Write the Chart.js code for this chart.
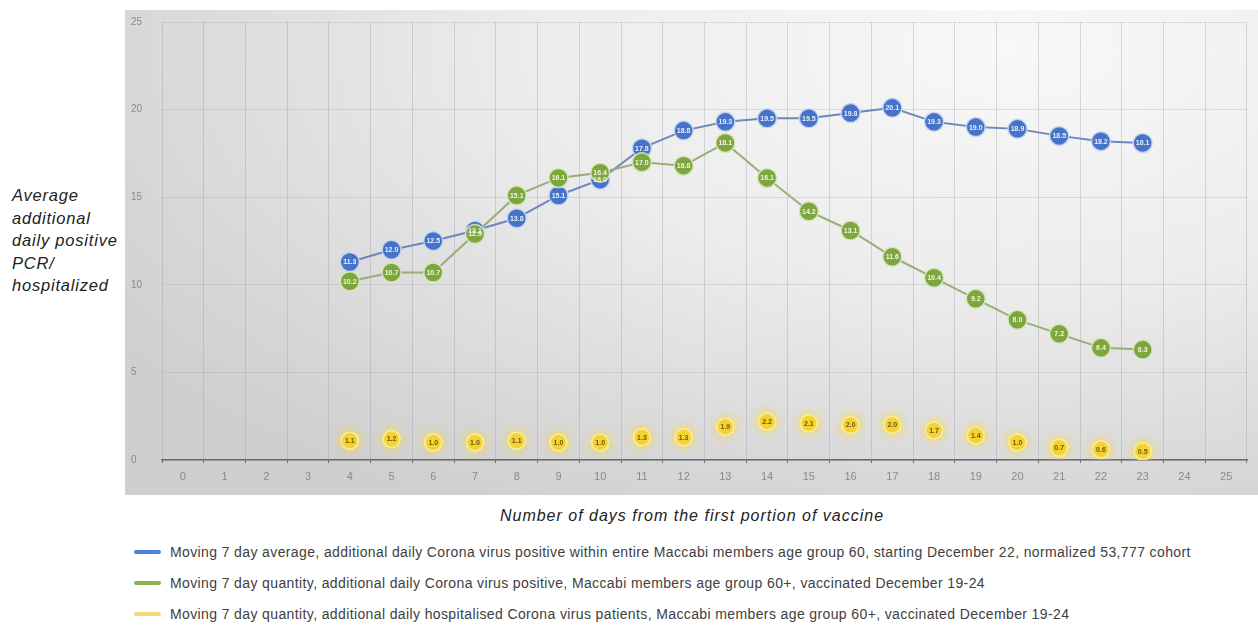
<!DOCTYPE html>
<html>
<head>
<meta charset="utf-8">
<script src="https://cdn.jsdelivr.net/npm/chart.js@4.4.1/dist/chart.umd.min.js"></script>
<style>
  body { margin: 0; background: #fff; font-family: "Liberation Sans", Arial, sans-serif; }
  #wrap { position: relative; width: 1258px; height: 632px; overflow: hidden; }
  #panel {
    position: absolute; left: 125px; top: 10px; width: 1133px; height: 485px;
    background: radial-gradient(ellipse 95% 110% at 78% 8%, #f8f8f8 0%, #ececec 45%, #d6d6d6 85%, #cfcfcf 100%);
  }
  #panel canvas { position: absolute; left: 0; top: 0; }
  #ytitle {
    position: absolute; left: 12px; top: 184px; font-style: italic; font-size: 16.5px;
    letter-spacing: 0.8px; line-height: 22.5px; color: #222;
  }
  #xtitle {
    position: absolute; left: 0; width: 1384px; top: 507px; text-align: center;
    font-style: italic; font-size: 16px; letter-spacing: 1px; color: #222;
  }
  #legend { position: absolute; left: 134px; top: 536px; }
  .item { height: 31.3px; display: flex; align-items: center; font-size: 14px; letter-spacing: 0.38px; color: #404040; }
  .swatch { width: 27px; height: 4px; border-radius: 2px; margin-right: 9px; }
</style>
</head>
<body>
<div id="wrap">
  <div id="panel"><canvas id="chart" width="1133" height="485"></canvas></div>
  <div id="ytitle">Average<br>additional<br>daily positive<br>PCR/<br>hospitalized</div>
  <div id="xtitle">Number of days from the first portion of vaccine</div>
  <div id="legend"></div>
</div>
<script>
  // days from first vaccine portion
  const days = ['0','1','2','3','4','5','6','7','8','9','10','11','12','13','14','15','16','17','18','19','20','21','22','23','24','25'];

  const seriesNames = [
    'Moving 7 day average, additional daily Corona virus positive within entire Maccabi members age group 60, starting December 22, normalized 53,777 cohort',
    'Moving 7 day quantity, additional daily Corona virus positive, Maccabi members age group 60+, vaccinated December 19-24',
    'Moving 7 day quantity, additional daily hospitalised Corona virus patients, Maccabi members age group 60+, vaccinated December 19-24'
  ];

  const cohortPositive = [null, null, null, null, 11.3, 12.0, 12.5, 13.1, 13.8, 15.1, 16.0, 17.8, 18.8, 19.3, 19.5, 19.5, 19.8, 20.1, 19.3, 19.0, 18.9, 18.5, 18.2, 18.1, null, null];
  const vaccinatedPositive = [null, null, null, null, 10.2, 10.7, 10.7, 12.9, 15.1, 16.1, 16.4, 17.0, 16.8, 18.1, 16.1, 14.2, 13.1, 11.6, 10.4, 9.2, 8.0, 7.2, 6.4, 6.3, null, null];
  const vaccinatedHospitalised = [null, null, null, null, 1.1, 1.2, 1.0, 1.0, 1.1, 1.0, 1.0, 1.3, 1.3, 1.9, 2.2, 2.1, 2.0, 2.0, 1.7, 1.4, 1.0, 0.7, 0.6, 0.5, null, null];

  const yTicks = [0, 5, 10, 15, 20, 25];

  const colors = ['#4673c8', '#7ea63e', '#f4d233'];
  const lineColors = ['#6f86bd', '#98ad77', 'rgba(0,0,0,0)'];
  const legendColors = ['#4f7fd6', '#8db44c', '#f3d877'];

  // html legend
  document.getElementById('legend').innerHTML = seriesNames.map((n, i) => `
    <div class="item"><span class="swatch" style="background:${legendColors[i]}"></span>${n}</div>
  `).join('');

  const glow = {
    id: 'glow',
    beforeDatasetDraw(chart, args) {
      const ds = chart.data.datasets[args.index];
      chart.ctx.save();
      chart.ctx.shadowColor = ds.glowColor;
      chart.ctx.shadowBlur = ds.glowBlur;
    },
    afterDatasetDraw(chart) {
      chart.ctx.restore();
    }
  };

  const pointLabels = {
    id: 'pointLabels',
    afterDatasetsDraw(chart) {
      const ctx = chart.ctx;
      // draw back to front so labels follow the point stacking
      chart.getSortedVisibleDatasetMetas().slice().reverse().forEach(meta => {
        const ds = chart.data.datasets[meta.index];
        meta.data.forEach((pt, j) => {
          const v = ds.data[j];
          if (v == null) return;
          ctx.save();
          ctx.font = 'bold 7px "Liberation Sans", Arial, sans-serif';
          ctx.fillStyle = ds.labelColor;
          ctx.textAlign = 'center';
          ctx.textBaseline = 'middle';
          ctx.fillText(v.toFixed(1), pt.x, pt.y + 0.5);
          ctx.restore();
        });
      });
    }
  };

  function makeSet(data, i, extra) {
    return Object.assign({
      label: seriesNames[i],
      data: data,
      borderColor: lineColors[i],
      borderWidth: 2,
      backgroundColor: colors[i],
      pointBackgroundColor: colors[i],
      pointBorderColor: 'rgba(200,215,240,0.9)',
      pointBorderWidth: 1.5,
      pointRadius: 9.5,
      pointHoverRadius: 9.5,
      tension: 0,
      spanGaps: false,
      labelColor: '#e8eefc',
      glowColor: 'rgba(0,0,0,0)',
      glowBlur: 0
    }, extra);
  }

  new Chart(document.getElementById('chart'), {
    type: 'line',
    data: {
      labels: days,
      datasets: [
        makeSet(cohortPositive, 0, { order: 2 }),
        makeSet(vaccinatedPositive, 1, { order: 1, pointBorderColor: 'rgba(215,232,190,0.9)', labelColor: '#eef6e0' }),
        makeSet(vaccinatedHospitalised, 2, {
          order: 3, showLine: false, pointRadius: 8.5, pointHoverRadius: 8.5,
          pointBorderColor: 'rgba(250,236,150,0.9)', pointBorderWidth: 2,
          labelColor: '#6b5a10', glowColor: 'rgba(250,215,60,0.85)', glowBlur: 9
        })
      ]
    },
    options: {
      responsive: false,
      animation: false,
      layout: { padding: { left: 6, right: 4, top: 12, bottom: 0 } },
      plugins: { legend: { display: false }, tooltip: { enabled: false } },
      scales: {
        x: {
          type: 'category',
          offset: true,
          grid: { offset: true, color: 'rgba(150,150,160,0.33)', lineWidth: 1, tickLength: 3, tickColor: '#666', drawTicks: true },
          border: { color: '#6a6a6a', width: 1.5 },
          ticks: { color: '#8a8a8a', font: { size: 11, family: '"Liberation Sans", Arial, sans-serif' }, padding: 7, maxRotation: 0, autoSkip: false },
          afterFit(s) { s.height = 35; }
        },
        y: {
          min: 0,
          max: 25,
          afterBuildTicks(s) { s.ticks = yTicks.map(v => ({ value: v })); },
          grid: { color: 'rgba(150,150,150,0.25)', drawTicks: false },
          border: { display: false },
          ticks: { color: '#8a8a8a', crossAlign: 'far', padding: 0, font: { size: 10, family: '"Liberation Sans", Arial, sans-serif' } },
          afterFit(s) { s.width = 31; }
        }
      }
    },
    plugins: [glow, pointLabels]
  });
</script>
</body>
</html>
